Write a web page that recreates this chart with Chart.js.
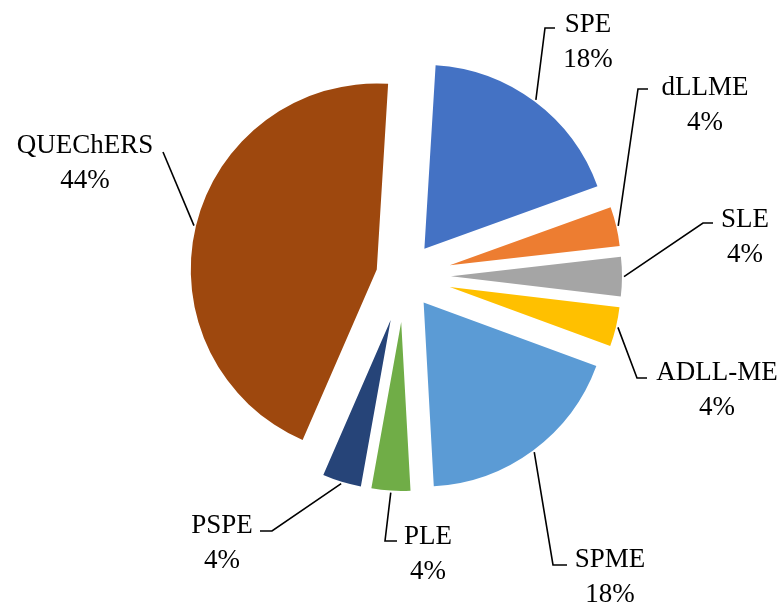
<!DOCTYPE html>
<html><head><meta charset="utf-8">
<script src="https://cdn.jsdelivr.net/npm/chart.js@4/dist/chart.umd.min.js"></script>
<style>html,body{margin:0;padding:0;background:#fff;}#wrap{width:781px;height:605px;position:relative;}</style>
</head><body><div id="wrap"><canvas id="c" width="781" height="605"></canvas></div>
<script>
// ---- data ----
const categories = ["SPE", "dLLME", "SLE", "ADLL-ME", "SPME", "PLE", "PSPE", "QUEChERS"];
const counts = [5, 1, 1, 1, 5, 1, 1, 12];
const percentLabels = ["18%", "4%", "4%", "4%", "18%", "4%", "4%", "44%"];

// ---- style ----
const colors = ["#4472C4", "#ED7D31", "#A5A5A5", "#FFC000", "#5B9BD5", "#70AD47", "#264478", "#9E480E"];
const explode = [34, 47, 47, 47, 33, 46, 46, 28];
const radii = [184, 171, 171, 171, 184, 169, 169, 186];
// label layout: text center x, first-line center y, leader elbow, leader end
const labelLayout = [
  {x: 588, y: 25,  elbow: [545, 28],  end: [555, 28]},
  {x: 705, y: 88,  elbow: [638, 89],  end: [648, 89]},
  {x: 745, y: 220, elbow: [703, 223], end: [713, 223]},
  {x: 717, y: 373, elbow: [637, 378], end: [647, 378]},
  {x: 610, y: 560, elbow: [553, 565], end: [567, 565]},
  {x: 428, y: 537, elbow: [385, 541], end: [397, 541]},
  {x: 222, y: 526, elbow: [272, 531], end: [260, 531]},
  {x: 85,  y: 146, elbow: [163, 152], end: [163, 152]}
];
const lineGap = 35;
const FONT = '27px "Liberation Serif", "Times New Roman", serif';

const explodePlugin = {
  id: 'explodeSlices',
  afterDatasetsUpdate(chart) {
    const meta = chart.getDatasetMeta(0);
    const ca = chart.chartArea;
    const cx = (ca.left + ca.right) / 2, cy = (ca.top + ca.bottom) / 2;
    meta.data.forEach((arc, i) => {
      const mid = (arc.startAngle + arc.endAngle) / 2;
      arc.x = cx + explode[i] * Math.cos(mid);
      arc.y = cy + explode[i] * Math.sin(mid);
      arc.outerRadius = radii[i];
      arc.innerRadius = 0;
    });
  }
};

const labelPlugin = {
  id: 'leaderLabels',
  afterDatasetsDraw(chart) {
    const ctx = chart.ctx;
    const meta = chart.getDatasetMeta(0);
    ctx.save();
    ctx.strokeStyle = '#000';
    ctx.lineWidth = 1.6;
    meta.data.forEach((arc, i) => {
      const mid = (arc.startAngle + arc.endAngle) / 2;
      const r = arc.outerRadius + 2;
      const sx = arc.x + r * Math.cos(mid), sy = arc.y + r * Math.sin(mid);
      const L = labelLayout[i];
      ctx.beginPath();
      ctx.moveTo(sx, sy);
      ctx.lineTo(L.elbow[0], L.elbow[1]);
      ctx.lineTo(L.end[0], L.end[1]);
      ctx.stroke();
    });
    ctx.fillStyle = '#000';
    ctx.font = FONT;
    ctx.textAlign = 'center';
    ctx.textBaseline = 'middle';
    categories.forEach((name, i) => {
      const L = labelLayout[i];
      ctx.fillText(name, L.x, L.y);
      ctx.fillText(percentLabels[i], L.x, L.y + lineGap);
    });
    ctx.restore();
  }
};

new Chart(document.getElementById('c'), {
  type: 'pie',
  data: {
    labels: categories,
    datasets: [{
      data: counts,
      backgroundColor: colors,
      borderWidth: 0
    }]
  },
  options: {
    responsive: false,
    animation: false,
    events: [],
    rotation: 3.5,
    layout: {padding: {left: 27, right: 0, top: 0, bottom: 53}},
    plugins: {legend: {display: false}, tooltip: {enabled: false}}
  },
  plugins: [explodePlugin, labelPlugin]
});
</script>
</body></html>
